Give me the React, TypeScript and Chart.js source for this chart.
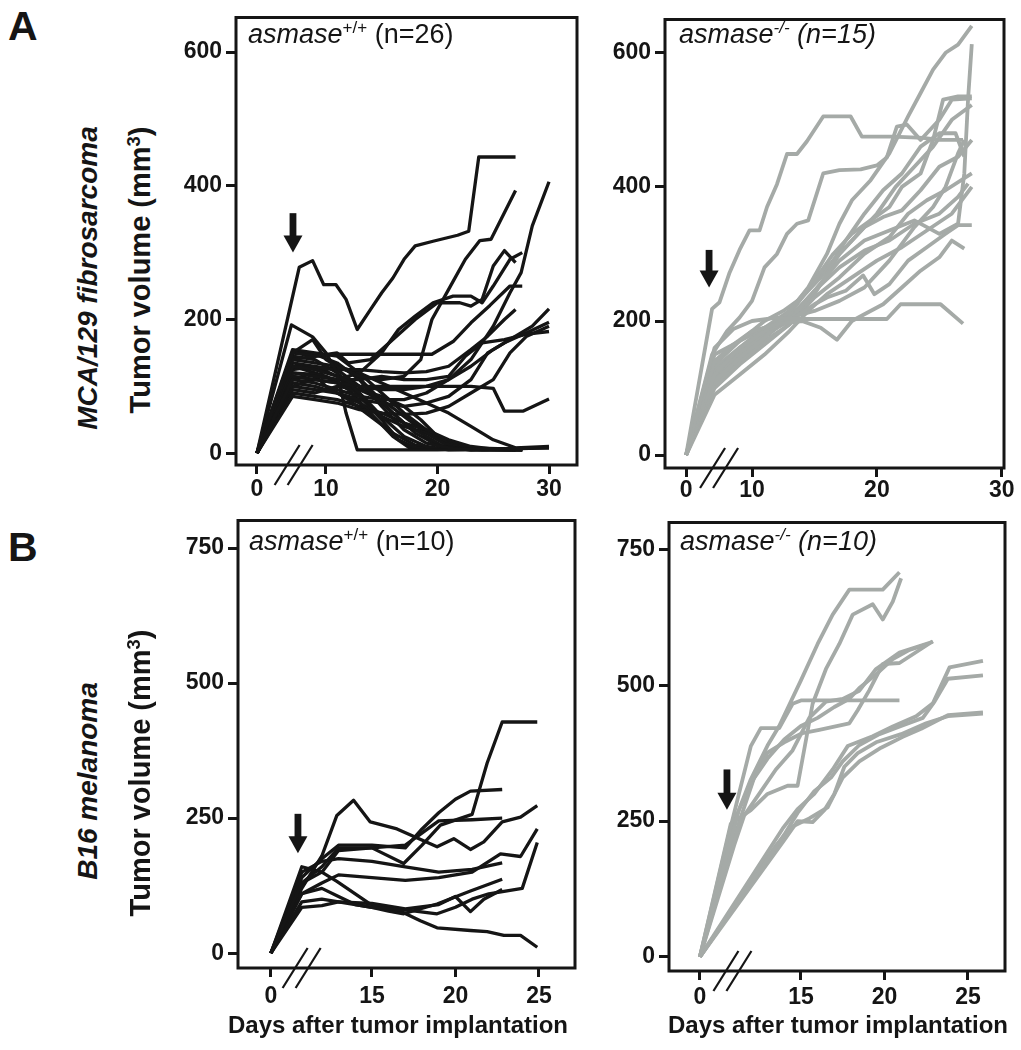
import React, { useEffect, useRef } from "react";
import { Chart, registerables } from "chart.js";

Chart.register(...registerables);

type Pt = [number, number]; // [day after implantation, tumor volume mm3]

const FONT = "'Liberation Sans', Arial, Helvetica, sans-serif";
const INK = "#151515";
const GREY = "#a5aaa7";

// ---------- DATA ----------
const mcaXTickDays = [0, 10, 20, 30];
const b16XTickDays = [0, 15, 20, 25];
const mcaYTicks = [0, 200, 400, 600];
const b16YTicks = [0, 250, 500, 750];

// A: MCA/129 fibrosarcoma, asmase+/+ (n=26)
const mcaWildType: Pt[][] = [
  [[0,0],[7.6,278],[8.8,288],[9.8,252],[10.9,252],[11.8,230],[12.8,185],[14,215],[15,240],[16,262],[17,290],[18,310],[19.6,317],[21.8,326],[22.8,332],[23.7,443],[27,443]],
  [[0,0],[6.9,192],[8.8,174],[10,150],[11,120],[11.8,60],[12.8,5],[20,5],[30,8]],
  [[0,0],[7,150],[8.8,170],[10,140],[11,130],[13,115],[15,110],[17,115],[18.5,140],[19.5,200],[21,245],[22.5,290],[23.8,318],[24.8,320],[27,393]],
  [[0,0],[7,110],[9,105],[11,95],[13,85],[15,80],[17,80],[19,90],[21,110],[23,140],[25,190],[26.5,240],[27.5,270],[28.5,340],[30,406]],
  [[0,0],[7,140],[9,145],[11,150],[12,135],[14,140],[16,170],[18,200],[20,225],[22,225],[23,220],[24,230],[25,280],[26,303],[27,285]],
  [[0,0],[7,150],[9,145],[11,148],[14,148],[17,148],[19.5,148],[21.4,167],[23,195],[24.7,221],[26.5,250],[27.6,250]],
  [[0,0],[7,130],[9,125],[11,115],[13,100],[15,95],[17,95],[19,100],[21,110],[23,130],[25,155],[27,175],[28.5,190],[30,216]],
  [[0,0],[7,105],[9,100],[11,90],[13,80],[15,75],[17,70],[19,75],[21,85],[23,110],[24.5,150],[26,165],[28,180],[30,196]],
  [[0,0],[7,120],[9,115],[11,110],[13,110],[15,115],[17,110],[19,110],[21,115],[22.5,145],[24,165],[26,170],[28,178],[30,182]],
  [[0,0],[7,115],[9,110],[11,105],[13,100],[15,100],[17,100],[19,100],[21,100],[23,100],[25,97],[26,63],[27.7,63],[30,81]],
  [[0,0],[7,120],[9,118],[11,110],[13,120],[15,150],[16.5,185],[18,205],[19.6,225],[21.4,235],[23,235],[24,225],[25,250],[26.5,290],[27.6,300]],
  [[0,0],[7,85],[9,80],[11,75],[13,65],[15,60],[17,58],[19,60],[21,70],[23,90],[25,110],[26.5,150],[28,175],[30,190]],
  [[0,0],[7,130],[9,128],[11,125],[13,125],[15,122],[17,120],[19,122],[21,130],[23,155],[24.5,175],[26,200],[27,215]],
  [[0,0],[7,150],[9,148],[11,135],[13,110],[15,70],[17,35],[19,15],[21,8],[23,5],[27.6,5]],
  [[0,0],[7,145],[9,140],[11,120],[13,90],[15,55],[17,25],[19,10],[21,5],[27.6,5]],
  [[0,0],[7,135],[9,130],[11,125],[13,100],[15,75],[17,45],[19,25],[20.5,10],[23,5],[30,8]],
  [[0,0],[7,125],[9,130],[11,115],[13,85],[15,50],[16.5,20],[18,8],[27,5]],
  [[0,0],[7,110],[8.8,120],[10,100],[12,80],[14,55],[16,30],[18,12],[20,6],[27.6,6]],
  [[0,0],[7,100],[9,95],[11,90],[13,75],[15,55],[17,40],[19,30],[20.5,15],[22,8],[24,5],[27.6,5]],
  [[0,0],[7,90],[9,85],[11,80],[13,70],[15,60],[17,45],[19,35],[21,20],[23,10],[25,6],[27.6,5]],
  [[0,0],[7,155],[9,150],[11,145],[13,120],[15,90],[17,60],[19,35],[21,15],[23,8],[27,6]],
  [[0,0],[7,130],[9,120],[10,115],[12,95],[14,60],[16,25],[17.5,8],[27,5]],
  [[0,0],[7,95],[9,90],[11,100],[13,95],[15,80],[17,55],[19,30],[21,12],[23,6],[27.6,6]],
  [[0,0],[7,115],[9,110],[11,105],[13,95],[15,85],[17,70],[18.5,50],[20,25],[22,10],[24,6],[27.6,6]],
  [[0,0],[7,100],[8.8,110],[10,125],[11,130],[12.5,120],[14,95],[16,60],[18,30],[20,12],[22,6],[27.6,5]],
  [[0,0],[7,140],[9,135],[11,130],[13,120],[15,105],[17,90],[19,75],[21,60],[23,40],[25,20],[27,8],[30,10]],
];

// A: MCA/129 fibrosarcoma, asmase-/- (n=15)
const mcaKnockout: Pt[][] = [
  [[0,0],[6.8,218],[7.4,228],[8.2,272],[9,306],[9.8,335],[10.6,335],[11.2,370],[12,404],[12.8,449],[13.6,449],[14.4,468],[15.7,505],[17.9,505],[18.8,475],[21.3,475],[23.7,473],[25,470],[26.9,470]],
  [[0,0],[6.8,150],[8,185],[9,205],[10,230],[11,280],[12,300],[12.8,330],[13.6,345],[14.5,350],[15.7,420],[17,425],[18.7,426],[20,432],[20.8,444],[21.6,490],[22.4,493],[23.5,470],[25,500],[26,530],[27.6,532]],
  [[0,0],[7,160],[8.5,188],[10,200],[12,205],[14.1,203],[17,203],[20.8,203],[21.9,225],[25.1,225],[26.9,196]],
  [[0,0],[7,140],[8.5,165],[10,185],[12,195],[14,200],[15.5,190],[16.8,172],[18,200],[19,210],[20.5,225],[22,250],[23.5,275],[25,295],[26,320],[27,308]],
  [[0,0],[7,120],[9,160],[11,185],[13,200],[15,225],[16,235],[17.5,245],[18.9,268],[19.8,240],[21,255],[22.5,290],[24,310],[25.5,330],[26.5,343],[27.6,343]],
  [[0,0],[7,110],[9,145],[11,175],[13,215],[14.5,250],[16,300],[17,345],[18,380],[19.5,410],[21,450],[22.5,505],[23.5,540],[24.5,575],[25.5,600],[26.5,612],[27.6,640]],
  [[0,0],[7,120],[9,150],[11,180],[13,200],[15,245],[17,290],[19,320],[21,335],[23,350],[25,330],[26.5,345],[27,420],[27.3,530],[27.6,613]],
  [[0,0],[7,125],[9,155],[11,185],[13,210],[15,260],[16.5,300],[18,330],[19.5,350],[21,370],[22,400],[23.5,420],[24.5,470],[25.3,530],[26.5,535],[27.6,535]],
  [[0,0],[7,105],[9,140],[11,170],[13,195],[15,240],[17,300],[18.5,330],[20,360],[21.5,400],[23,430],[24.5,460],[26,500],[27.6,522]],
  [[0,0],[7,130],[9,160],[11,190],[13,215],[15,260],[17,300],[19,340],[20.5,355],[22,365],[23.5,395],[25,430],[26.5,445],[27.6,470]],
  [[0,0],[7,100],[9,135],[11,165],[13,195],[15,235],[17,265],[19,300],[21,325],[22.5,360],[24,380],[25.5,395],[27.6,420]],
  [[0,0],[7,150],[9,170],[11,190],[13,205],[15,215],[17,230],[19,250],[21,290],[23,340],[24.5,370],[25.5,400],[26.5,450],[27,470]],
  [[0,0],[7,115],[9,145],[11,175],[13,205],[15,245],[17,280],[19,305],[21,320],[23,345],[25,360],[26.5,385],[27.3,405]],
  [[0,0],[7,135],[9,170],[11,200],[12.5,215],[14,235],[16,275],[17.5,320],[19,360],[20.5,395],[22,420],[23.5,460],[25,480],[26.3,480],[27,445]],
  [[0,0],[7,90],[9,120],[11,150],[13,185],[14.5,215],[16,240],[18,265],[20,290],[22,310],[24,335],[26,360],[27.6,400]],
];

// B: B16 melanoma, asmase+/+ (n=10)
const b16WildType: Pt[][] = [
  [[0,0],[10.8,130],[12,160],[13,195],[15,195],[16.9,166],[18,200],[19.1,237],[21,257],[21.9,352],[22.8,428],[24.9,428]],
  [[0,0],[10.8,120],[12,180],[12.9,255],[13.9,283],[14.9,243],[16.5,230],[18.9,197],[19.9,212],[20.9,192],[21.7,206],[22.8,243],[23.9,252],[24.9,273]],
  [[0,0],[10.8,140],[12,175],[13,200],[15,200],[17,195],[18,230],[19,260],[20,285],[20.9,300],[22.8,303]],
  [[0,0],[10.8,130],[12,150],[13,190],[15,195],[17,200],[19,245],[21,247],[22.8,250]],
  [[0,0],[10.8,110],[12,130],[13,145],[15,140],[17,135],[19,140],[21,150],[22.7,184],[23.9,179],[24.9,230]],
  [[0,0],[10.8,95],[12,100],[13,95],[15,85],[17,80],[18.9,73],[20,85],[21,100],[22,110],[24,120],[24.9,205]],
  [[0,0],[10.8,150],[12,170],[13,175],[15,170],[17,160],[19,150],[21,155],[22.8,167]],
  [[0,0],[10.8,110],[12,120],[13,105],[14,90],[15,85],[16,78],[16.9,73],[18.9,91],[20.9,115],[22.8,137]],
  [[0,0],[10.8,160],[12,150],[12.9,133],[14,110],[14.9,91],[16.9,75],[17.9,60],[18.9,47],[20.9,42],[21.9,40],[22.9,33],[23.9,33],[24.9,11]],
  [[0,0],[10.8,85],[12,88],[13,95],[15,92],[17,82],[19,90],[20,105],[20.9,77],[21.7,100],[22.8,118]],
];

// B: B16 melanoma, asmase-/- (n=10)
const b16Knockout: Pt[][] = [
  [[0,0],[11.3,272],[12,327],[13,389],[13.7,425],[15,509],[16,576],[16.9,630],[17.9,676],[19.9,676],[20.9,708]],
  [[0,0],[10.8,245],[12,270],[13,300],[14.2,315],[14.8,315],[15.7,466],[16.5,530],[17.3,576],[18.1,630],[19.3,649],[19.9,621],[20.5,654],[21,697]],
  [[0,0],[11.3,248],[12.2,330],[13,376],[14,395],[15.1,412],[16.1,418],[17.9,430],[18.4,454],[19.1,491],[19.9,539],[20.9,541],[22.9,581]],
  [[0,0],[10.8,240],[12,388],[12.6,421],[13.7,421],[14.5,466],[15,472],[18,472],[20.9,472]],
  [[0,0],[13.9,236],[14.8,272],[15.8,300],[16.9,345],[17.8,388],[19.3,406],[20.5,424],[21.9,443],[22.9,467],[23.9,533],[25.9,545]],
  [[0,0],[14,225],[14.8,265],[15.8,305],[16.8,330],[17.5,360],[18.5,390],[19.7,410],[21,425],[22.3,440],[23,470],[23.8,512],[25.9,518]],
  [[0,0],[14,215],[14.8,250],[15.7,248],[16.4,270],[17,300],[17.6,350],[18.4,375],[19.5,395],[21,410],[22.5,430],[23.8,443],[25.9,448]],
  [[0,0],[13.5,205],[14.5,240],[15.5,255],[16.6,275],[17.5,330],[18.5,360],[19.8,385],[21.1,405],[22.2,420],[23.8,445],[25.9,450]],
  [[0,0],[11,205],[11.6,260],[12.5,300],[13.5,345],[14.5,380],[15.5,440],[16.5,470],[17.5,475],[18.5,490],[19.5,530],[20.9,560],[22.9,580]],
  [[0,0],[11,250],[12,320],[13,365],[14,400],[15,425],[16,440],[17,460],[17.9,475],[18.5,495],[19.5,520],[20.5,548],[21.5,565],[22.5,575]],
];

// ---------- PANEL SETUP ----------
interface PanelCfg {
  frame: { l: number; t: number; r: number; b: number };
  xMin: number; xMax: number; zeroAt: number; breakAt: number;
  yMin: number; yMax: number;
  xTicks: number[]; yTicks: number[];
  series: Pt[][]; color: string; lineWidth: number;
  arrow: { day: number; top: number; tip: number };
  labelPad: number;
}

const Y_AXIS_W = 76;
const PAD_T = 10;
const PAD_R = 26;
const X_AXIS_H = 46;

function Panel({ cfg }: { cfg: PanelCfg }) {
  const ref = useRef<HTMLCanvasElement>(null);
  const left = cfg.frame.l - Y_AXIS_W;
  const top = cfg.frame.t - PAD_T;
  const width = cfg.frame.r + PAD_R - left;
  const height = cfg.frame.b + X_AXIS_H - top;

  useEffect(() => {
    if (!ref.current) return;
    const zeroX = cfg.zeroAt;
    const datasets = cfg.series.map((s) => ({
      data: s.map(([d, v]) => ({ x: d === 0 ? zeroX : d, y: v })),
      borderColor: cfg.color,
      borderWidth: cfg.lineWidth,
      pointRadius: 0,
      fill: false,
      tension: 0,
      borderJoinStyle: "round" as const,
    }));
    const tickFont = { family: FONT, size: 23, weight: "bold" as const, lineHeight: 1 };
    const decor = {
      id: "decor",
      afterDatasetsDraw(chart: any) {
        const { ctx, chartArea: a, scales } = chart;
        ctx.save();
        ctx.strokeStyle = INK;
        ctx.lineWidth = 3;
        ctx.strokeRect(a.left, a.top, a.right - a.left, a.bottom - a.top);
        // axis break marks
        const bx = scales.x.getPixelForValue(cfg.breakAt);
        ctx.lineWidth = 2.2;
        for (const dx of [-6.5, 6.5]) {
          ctx.beginPath();
          ctx.moveTo(bx + dx - 12.5, a.bottom + 20);
          ctx.lineTo(bx + dx + 12.5, a.bottom - 20);
          ctx.stroke();
        }
        // treatment arrow
        const ax = scales.x.getPixelForValue(cfg.arrow.day);
        const y0 = scales.y.getPixelForValue(cfg.arrow.top);
        const y1 = scales.y.getPixelForValue(cfg.arrow.tip);
        ctx.fillStyle = INK;
        ctx.fillRect(ax - 3.4, y0, 6.8, y1 - y0 - 16);
        ctx.beginPath();
        ctx.moveTo(ax - 9.5, y1 - 17);
        ctx.lineTo(ax + 9.5, y1 - 17);
        ctx.lineTo(ax, y1);
        ctx.closePath();
        ctx.fill();
        ctx.restore();
      },
    };
    const chart = new Chart(ref.current, {
      type: "line",
      data: { datasets },
      options: {
        animation: false,
        responsive: false,
        maintainAspectRatio: false,
        events: [],
        layout: { padding: { top: PAD_T, right: PAD_R, left: 0, bottom: 0 } },
        plugins: { legend: { display: false }, tooltip: { enabled: false } },
        scales: {
          x: {
            type: "linear",
            min: cfg.xMin,
            max: cfg.xMax,
            afterBuildTicks: (s: any) => {
              s.ticks = cfg.xTicks.map((d) => ({ value: d === 0 ? zeroX : d }));
            },
            afterFit: (s: any) => {
              s.height = X_AXIS_H;
            },
            ticks: {
              autoSkip: false,
              maxRotation: 0,
              padding: cfg.labelPad,
              color: INK,
              font: tickFont,
              callback: (_v: any, i: number) => String(cfg.xTicks[i]),
            },
            grid: { drawOnChartArea: false, drawTicks: true, tickLength: 9, tickWidth: 3, tickColor: INK },
            border: { display: false },
          },
          y: {
            type: "linear",
            min: cfg.yMin,
            max: cfg.yMax,
            afterBuildTicks: (s: any) => {
              s.ticks = cfg.yTicks.map((v) => ({ value: v }));
            },
            afterFit: (s: any) => {
              s.width = Y_AXIS_W;
            },
            ticks: {
              autoSkip: false,
              padding: 4,
              color: INK,
              font: tickFont,
              callback: (_v: any, i: number) => String(cfg.yTicks[i]),
            },
            grid: { drawOnChartArea: false, drawTicks: true, tickLength: 10, tickWidth: 3, tickColor: INK },
            border: { display: false },
          },
        },
      },
      plugins: [decor],
    } as any);
    return () => chart.destroy();
  }, []);

  return (
    <canvas
      ref={ref}
      width={width}
      height={height}
      style={{ position: "absolute", left, top, width, height }}
    />
  );
}

const panels: PanelCfg[] = [
  {
    frame: { l: 236, t: 12, r: 577, b: 465 },
    xMin: 1.93, xMax: 32.51, zeroAt: 3.81, breakAt: 7.1,
    yMin: -17.7, yMax: 651.7,
    xTicks: mcaXTickDays, yTicks: mcaYTicks,
    series: mcaWildType, color: INK, lineWidth: 3.3,
    arrow: { day: 7.04, top: 359, tip: 300 },
    labelPad: 4,
  },
  {
    frame: { l: 665, t: 14, r: 1004, b: 468 },
    xMin: 3.03, xMax: 30.18, zeroAt: 4.72, breakAt: 7.36,
    yMin: -19.2, yMax: 649.6,
    xTicks: mcaXTickDays, yTicks: mcaYTicks,
    series: mcaKnockout, color: GREY, lineWidth: 3.8,
    arrow: { day: 6.56, top: 306, tip: 250 },
    labelPad: 2,
  },
  {
    frame: { l: 238, t: 515, r: 575, b: 968 },
    xMin: 6.98, xMax: 27.16, zeroAt: 8.95, breakAt: 10.79,
    yMin: -27.4, yMax: 801,
    xTicks: b16XTickDays, yTicks: b16YTicks,
    series: b16WildType, color: INK, lineWidth: 3.3,
    arrow: { day: 10.57, top: 258, tip: 185 },
    labelPad: 8,
  },
  {
    frame: { l: 669, t: 517, r: 1005, b: 971 },
    xMin: 7.1, xMax: 27.22, zeroAt: 8.95, breakAt: 10.9,
    yMin: -26, yMax: 799.6,
    xTicks: b16XTickDays, yTicks: b16YTicks,
    series: b16Knockout, color: GREY, lineWidth: 3.8,
    arrow: { day: 10.57, top: 345, tip: 271 },
    labelPad: 6,
  },
];

function Sup({ children }: { children: React.ReactNode }) {
  return (
    <span style={{ fontSize: "0.63em", position: "relative", top: "-0.55em" }}>{children}</span>
  );
}

function VText({ cx, cy, children, style }: { cx: number; cy: number; children: React.ReactNode; style?: React.CSSProperties }) {
  const W = 440, H = 40;
  return (
    <div
      style={{
        position: "absolute",
        left: cx - W / 2,
        top: cy - H / 2,
        width: W,
        height: H,
        lineHeight: H + "px",
        textAlign: "center",
        whiteSpace: "nowrap",
        transform: "rotate(-90deg)",
        ...style,
      }}
    >
      {children}
    </div>
  );
}

function PanelTitle({ left, top, sup, n, italicN }: { left: number; top: number; sup: string; n: number; italicN: boolean }) {
  return (
    <div style={{ position: "absolute", left, top, fontSize: 27, lineHeight: "27px", whiteSpace: "nowrap" }}>
      <span style={{ fontStyle: "italic" }}>asmase</span>
      <span style={{ fontSize: 17, position: "relative", top: -10, fontStyle: italicN ? "italic" : "normal" }}>{sup}</span>
      <span style={{ fontStyle: italicN ? "italic" : "normal" }}> (n={n})</span>
    </div>
  );
}

export default function App() {
  return (
    <div
      style={{
        position: "absolute",
        left: 0,
        top: 0,
        width: 1021,
        height: 1050,
        background: "#ffffff",
        fontFamily: FONT,
        color: INK,
        overflow: "hidden",
      }}
    >
      {panels.map((p, i) => (
        <Panel key={i} cfg={p} />
      ))}

      <div style={{ position: "absolute", left: 8, top: 6, fontSize: 41, fontWeight: "bold", lineHeight: "41px" }}>A</div>
      <div style={{ position: "absolute", left: 8, top: 527, fontSize: 41, fontWeight: "bold", lineHeight: "41px" }}>B</div>

      <VText cx={88} cy={278} style={{ fontSize: 28, fontWeight: "bold", fontStyle: "italic" }}>MCA/129 fibrosarcoma</VText>
      <VText cx={140} cy={270} style={{ fontSize: 29, fontWeight: "bold" }}>
        Tumor volume (mm<Sup>3</Sup>)
      </VText>
      <VText cx={88} cy={781} style={{ fontSize: 28, fontWeight: "bold", fontStyle: "italic" }}>B16 melanoma</VText>
      <VText cx={140} cy={773} style={{ fontSize: 29, fontWeight: "bold" }}>
        Tumor volume (mm<Sup>3</Sup>)
      </VText>

      <PanelTitle left={248} top={21} sup="+/+" n={26} italicN={false} />
      <PanelTitle left={679} top={21} sup="-/-" n={15} italicN={true} />
      <PanelTitle left={249} top={528} sup="+/+" n={10} italicN={false} />
      <PanelTitle left={680} top={528} sup="-/-" n={10} italicN={true} />

      <div style={{ position: "absolute", left: 398 - 220, top: 1013, width: 440, textAlign: "center", fontSize: 24, fontWeight: "bold", lineHeight: "24px", whiteSpace: "nowrap" }}>
        Days after tumor implantation
      </div>
      <div style={{ position: "absolute", left: 838 - 220, top: 1013, width: 440, textAlign: "center", fontSize: 24, fontWeight: "bold", lineHeight: "24px", whiteSpace: "nowrap" }}>
        Days after tumor implantation
      </div>
    </div>
  );
}
